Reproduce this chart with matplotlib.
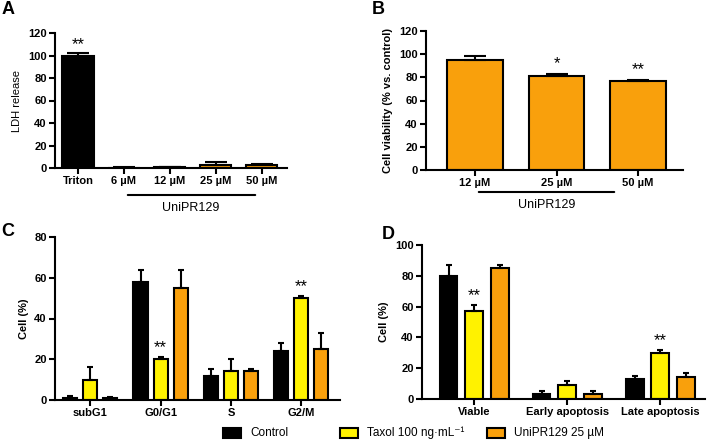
import matplotlib
matplotlib.use("Agg")
import matplotlib.pyplot as plt
import numpy as np
from matplotlib.patches import Rectangle

plt.rcParams['font.family'] = ['Liberation Sans', 'DejaVu Sans']

BLACK = '#000000'
YELLOW = '#FFF200'
ORANGE = '#F9A00C'

# Panel A
a_labels = ['Triton', '6 \u00b5M', '12 \u00b5M', '25 \u00b5M', '50 \u00b5M']
a_vals = [100, 0.3, 1.0, 3.0, 2.5]
a_err = [2.5, 0.2, 0.3, 2.0, 1.0]
a_colors = [BLACK, ORANGE, ORANGE, ORANGE, ORANGE]

# Panel B
b_labels = ['12 \u00b5M', '25 \u00b5M', '50 \u00b5M']
b_vals = [95, 81.5, 76.5]
b_err = [3, 1, 1]

# Panel C
c_cats = ['subG1', 'G0/G1', 'S', 'G2/M']
c_control = [1, 58, 12, 24]
c_control_err = [1, 6, 3, 4]
c_taxol = [10, 20, 14, 50]
c_taxol_err = [6, 1, 6, 1]
c_uni = [1, 55, 14, 25]
c_uni_err = [0.4, 9, 1, 8]

# Panel D
d_cats = ['Viable', 'Early apoptosis', 'Late apoptosis']
d_control = [80, 3, 13]
d_control_err = [7, 2, 2]
d_taxol = [57, 9, 30]
d_taxol_err = [4, 3, 2]
d_uni = [85, 3, 14]
d_uni_err = [2, 2, 3]

series_names = ['Control', 'Taxol 100 ng\u00b7mL\u207b\u00b9', 'UniPR129 25 \u00b5M']
series_colors = [BLACK, YELLOW, ORANGE]

W, H = 709, 441
fig = plt.figure(figsize=(W / 100, H / 100), dpi=100)

def ax_px(l, r, t, b):
    return fig.add_axes([l / W, 1 - b / H, (r - l) / W, (b - t) / H])

def style(ax):
    for s in ['top', 'right']:
        ax.spines[s].set_visible(False)
    for s in ['left', 'bottom']:
        ax.spines[s].set_linewidth(1.5)
    ax.tick_params(axis='both', direction='out', width=1.5, length=4, labelsize=8, pad=2)
    for lab in ax.get_xticklabels() + ax.get_yticklabels():
        lab.set_fontweight('bold')

def bars(ax, x, vals, errs, colors, width):
    ax.bar(x, vals, width=width, color=colors, edgecolor='black', linewidth=1.5, zorder=2)
    ax.errorbar(x, vals, yerr=[np.zeros(len(vals)), errs], fmt='none', ecolor='black',
                elinewidth=1.5, capsize=width * 12, capthick=1.5, zorder=3)

STAR = 12

# ---- A ----
axA = ax_px(55, 287, 33, 168)
xa = np.arange(len(a_labels))
bars(axA, xa, a_vals, a_err, a_colors, 0.68)
axA.set_xlim(-0.5, 4.55)
axA.set_ylim(0, 120)
axA.set_yticks(range(0, 121, 20))
axA.set_xticks(xa)
axA.set_xticklabels(a_labels)
axA.set_ylabel('LDH release', fontsize=8, labelpad=4)
style(axA)
axA.text(0, 103, '**', ha='center', va='bottom', fontsize=STAR)
axA.annotate('', xy=(258 / W, 1 - 195 / H), xytext=(125 / W, 1 - 195 / H),
             xycoords='figure fraction', arrowprops=dict(arrowstyle='-', lw=1.5))
fig.text(191 / W, 1 - 208 / H, 'UniPR129', ha='center', va='center', fontsize=9)
fig.text(2 / W, 1 - 10 / H, 'A', fontsize=13, fontweight='bold', va='center')

# ---- B ----
axB = ax_px(426, 683, 31, 170)
xb = np.arange(len(b_labels))
bars(axB, xb, b_vals, b_err, [ORANGE] * 3, 0.68)
axB.set_xlim(-0.6, 2.55)
axB.set_ylim(0, 120)
axB.set_yticks(range(0, 121, 20))
axB.set_xticks(xb)
axB.set_xticklabels(b_labels)
axB.set_ylabel('Cell viability (% vs. control)', fontsize=8, fontweight='bold', labelpad=4)
style(axB)
axB.text(1, 85, '*', ha='center', va='bottom', fontsize=STAR)
axB.text(2, 80, '**', ha='center', va='bottom', fontsize=STAR)
axB.annotate('', xy=(617 / W, 1 - 192 / H), xytext=(476 / W, 1 - 192 / H),
             xycoords='figure fraction', arrowprops=dict(arrowstyle='-', lw=1.5))
fig.text(547 / W, 1 - 205 / H, 'UniPR129', ha='center', va='center', fontsize=9)
fig.text(372 / W, 1 - 10 / H, 'B', fontsize=13, fontweight='bold', va='center')

# ---- C ----
axC = ax_px(55, 340, 237, 400)
xc = np.arange(len(c_cats))
off, w = 0.285, 0.2
bars(axC, xc - off, c_control, c_control_err, [BLACK] * 4, w)
bars(axC, xc, c_taxol, c_taxol_err, [YELLOW] * 4, w)
bars(axC, xc + off, c_uni, c_uni_err, [ORANGE] * 4, w)
axC.set_xlim(-0.5, 3.55)
axC.set_ylim(0, 80)
axC.set_yticks(range(0, 81, 20))
axC.set_xticks(xc)
axC.set_xticklabels(c_cats)
axC.set_ylabel('Cell (%)', fontsize=8, fontweight='bold', labelpad=4)
style(axC)
axC.text(1, 22, '**', ha='center', va='bottom', fontsize=STAR)
axC.text(3, 52, '**', ha='center', va='bottom', fontsize=STAR)
fig.text(1 / W, 1 - 231 / H, 'C', fontsize=13, fontweight='bold', va='center')

# ---- D ----
axD = ax_px(422, 705, 245, 399)
xd = np.arange(len(d_cats))
off, w = 0.275, 0.19
bars(axD, xd - off, d_control, d_control_err, [BLACK] * 3, w)
bars(axD, xd, d_taxol, d_taxol_err, [YELLOW] * 3, w)
bars(axD, xd + off, d_uni, d_uni_err, [ORANGE] * 3, w)
axD.set_xlim(-0.56, 2.48)
axD.set_ylim(0, 100)
axD.set_yticks(range(0, 101, 20))
axD.set_xticks(xd)
axD.set_xticklabels(d_cats)
axD.set_ylabel('Cell (%)', fontsize=8, fontweight='bold', labelpad=4)
style(axD)
axD.text(0, 62, '**', ha='center', va='bottom', fontsize=STAR)
axD.text(2, 33, '**', ha='center', va='bottom', fontsize=STAR)
fig.text(382 / W, 1 - 234 / H, 'D', fontsize=13, fontweight='bold', va='center')

# ---- Legend (fixed column positions as in the original layout) ----
leg_x = [223, 340, 487]
leg_y = 433
for x0, col, name in zip(leg_x, series_colors, series_names):
    fig.patches.append(Rectangle((x0 / W, 1 - (leg_y + 5) / H), 18 / W, 10 / H,
                                 transform=fig.transFigure, facecolor=col,
                                 edgecolor='black', linewidth=1.5))
    fig.text((x0 + 27) / W, 1 - leg_y / H, name, ha='left', va='center', fontsize=8.5)

fig.savefig('out.png', dpi=100)
